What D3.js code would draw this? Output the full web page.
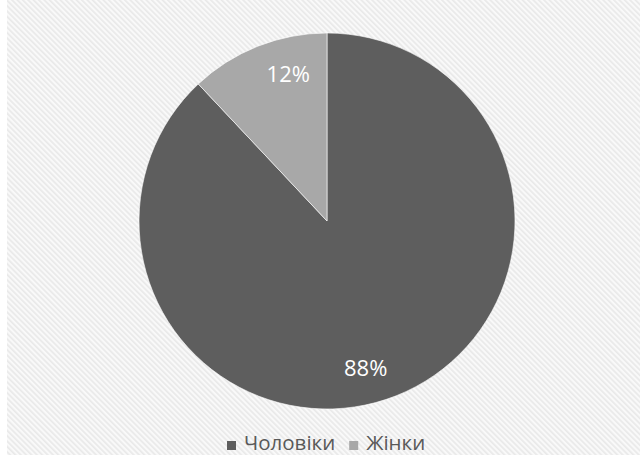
<!DOCTYPE html>
<html>
<head>
<meta charset="utf-8">
<script src="https://cdn.jsdelivr.net/npm/d3@7"></script>
<style>
  html, body { margin: 0; padding: 0; background: #ffffff; }
  svg { display: block; }
</style>
</head>
<body>
<svg id="chart" width="640" height="455"></svg>
<script>
// Share of participants by gender, in percent
const categories = ["Чоловіки", "Жінки"];
const values = [88, 12];
const colors = ["#5e5e5e", "#a8a8a8"];

const width = 640, height = 455;
const cx = 327, cy = 221, radius = 188;

const svg = d3.select("#chart");

// Faint diagonal hatching behind the chart area
const defs = svg.append("defs");
const pat = defs.append("pattern")
  .attr("id", "hatch")
  .attr("patternUnits", "userSpaceOnUse")
  .attr("width", 3.8)
  .attr("height", 3.8)
  .attr("patternTransform", "rotate(-45)");
pat.append("rect").attr("width", 3.8).attr("height", 3.8).attr("fill", "#f9f9f9");
pat.append("rect").attr("width", 1.7).attr("height", 3.8).attr("fill", "#e9e9e9");

svg.append("rect")
  .attr("x", 7).attr("y", 0)
  .attr("width", width - 7).attr("height", height)
  .attr("fill", "url(#hatch)");

const pie = d3.pie().sort(null).value(d => d)(values);
const arc = d3.arc().innerRadius(0).outerRadius(radius);

const g = svg.append("g").attr("transform", `translate(${cx},${cy})`);

g.selectAll("path.slice")
  .data(pie)
  .join("path")
  .attr("class", "slice")
  .attr("d", arc)
  .attr("fill", (d, i) => colors[i])
  .attr("stroke", "#ffffff")
  .attr("stroke-width", 0.6);

// Percent labels sit inside each slice, a little clockwise of its middle
const labelR = radius * 0.81;
const labelShift = 0.12;
g.selectAll("text.pct")
  .data(pie)
  .join("text")
  .attr("class", "pct")
  .attr("transform", d => {
    const a = (d.startAngle + d.endAngle) / 2 + labelShift;
    return `translate(${labelR * Math.sin(a)},${-labelR * Math.cos(a)})`;
  })
  .attr("text-anchor", "middle")
  .attr("dy", "0.36em")
  .attr("font-family", "'Open Sans', sans-serif")
  .attr("font-size", 22)
  .attr("fill", "#ffffff")
  .text(d => d.data + "%");

// Legend under the pie
const legend = svg.append("g").attr("font-family", "'Open Sans', sans-serif").attr("font-size", 20.5);
const items = legend.selectAll("g.item")
  .data(categories)
  .join("g")
  .attr("class", "item");
items.append("rect")
  .attr("width", 9).attr("height", 9)
  .attr("y", -9)
  .attr("fill", (d, i) => colors[i]);
items.append("text")
  .attr("x", 17)
  .attr("fill", "#595959")
  .text(d => d);

const widths = items.nodes().map(n => n.getBBox().width);
const gap = 14;
let x0 = 227;
items.attr("transform", (d, i) => {
  const t = `translate(${x0},450)`;
  x0 += widths[i] + gap;
  return t;
});
</script>
</body>
</html>
